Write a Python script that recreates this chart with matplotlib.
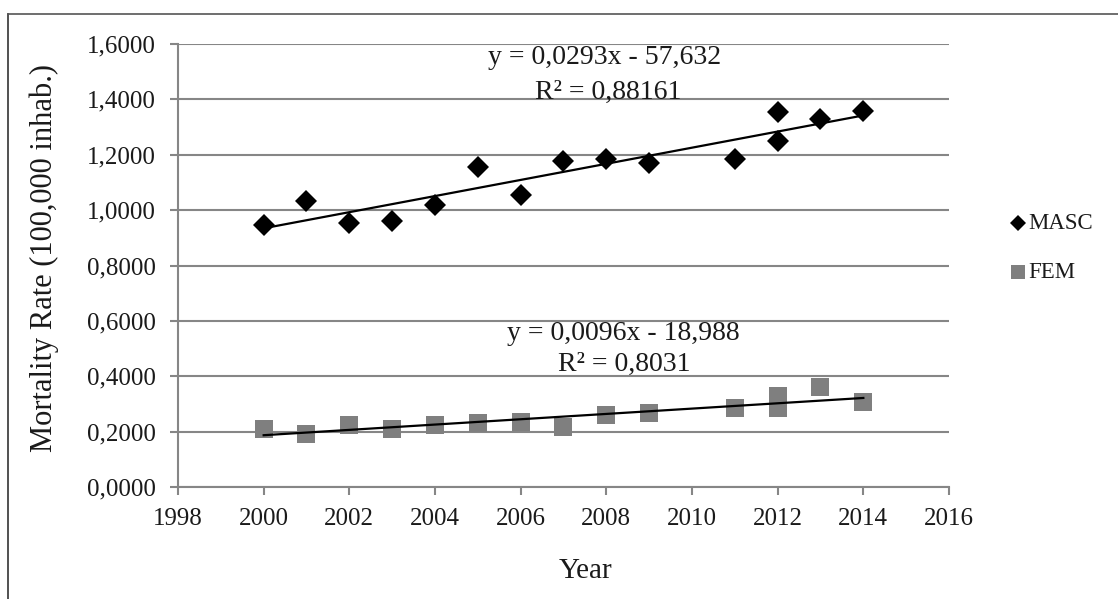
import numpy as np
import matplotlib
matplotlib.use("Agg")
import matplotlib.pyplot as plt
from matplotlib.lines import Line2D

plt.rcParams['font.family'] = ['Liberation Serif', 'DejaVu Serif']

# Data
masc_years = [2000, 2001, 2002, 2003, 2004, 2005, 2006, 2007, 2008, 2009, 2011, 2012, 2012, 2013, 2014]
masc_rate = [0.948, 1.032, 0.955, 0.960, 1.019, 1.157, 1.053, 1.177, 1.186, 1.169, 1.183, 1.355, 1.249, 1.330, 1.358]
fem_years = [2000, 2001, 2002, 2003, 2004, 2005, 2006, 2007, 2008, 2009, 2011, 2012, 2012, 2013, 2014]
fem_rate = [0.210, 0.193, 0.223, 0.210, 0.225, 0.231, 0.235, 0.216, 0.260, 0.266, 0.284, 0.329, 0.284, 0.361, 0.307]
masc_eq = ["y = 0,0293x - 57,632", "R² = 0,88161"]
fem_eq = ["y = 0,0096x - 18,988", "R² = 0,8031"]
x_ticks = list(range(1998, 2017, 2))
y_ticks = [0.0, 0.2, 0.4, 0.6, 0.8, 1.0, 1.2, 1.4, 1.6]
y_ticklabels = ["0,0000", "0,2000", "0,4000", "0,6000", "0,8000", "1,0000", "1,2000", "1,4000", "1,6000"]

W, H = 1118, 599
fig = plt.figure(figsize=(W / 100, H / 100), dpi=100)

def fx(px):
    return px / W

def fy(py):
    return 1 - py / H

ax = fig.add_axes([fx(178), fy(487), fx(949) - fx(178), fy(44) - fy(487)])
grid_c = '#868686'
txt_c = '#1a1a1a'

ax.set_xlim(1998, 2016)
ax.set_ylim(0, 1.6)
ax.set_xticks(x_ticks)
ax.set_yticks(y_ticks)
ax.set_yticklabels(y_ticklabels)
ax.yaxis.grid(True, color=grid_c, linewidth=1.5)
ax.set_axisbelow(True)
for s in ['top', 'right']:
    ax.spines[s].set_visible(False)
for s in ['left', 'bottom']:
    ax.spines[s].set_color(grid_c)
    ax.spines[s].set_linewidth(1.5)
ax.tick_params(axis='both', direction='out', length=6, width=1.5, color=grid_c,
               labelsize=18, labelcolor=txt_c)
ax.tick_params(axis='y', pad=10)
ax.tick_params(axis='x', pad=9)

# trend lines
for xs, ys in [(masc_years, masc_rate), (fem_years, fem_rate)]:
    xs_a = np.array(xs, dtype=float)
    ys_a = np.array(ys, dtype=float)
    m, b = np.polyfit(xs_a, ys_a, 1)
    xl = np.array([xs_a.min(), xs_a.max()])
    ax.plot(xl, m * xl + b, color='black', linewidth=1.6, zorder=3)

ax.plot(fem_years, fem_rate, linestyle='none', marker='s', markersize=13.5,
        color='#7f7f7f', markeredgewidth=0, zorder=2)
ax.plot(masc_years, masc_rate, linestyle='none', marker='D', markersize=11,
        color='black', markeredgewidth=0, zorder=4)

# equations
fig.text(fx(605), fy(58), masc_eq[0], ha='center', va='center', fontsize=20, color=txt_c)
fig.text(fx(608), fy(92), masc_eq[1], ha='center', va='center', fontsize=20, color=txt_c)
fig.text(fx(623), fy(333), fem_eq[0], ha='center', va='center', fontsize=20, color=txt_c)
fig.text(fx(624), fy(364), fem_eq[1], ha='center', va='center', fontsize=20, color=txt_c)

# axis labels
fig.text(fx(586), fy(571), "Year", ha='center', va='center', fontsize=21, color=txt_c)
fig.text(fx(44), fy(258), "Mortality Rate (100,000 inhab.)", ha='center', va='center',
         rotation=90, fontsize=22, color=txt_c)

# legend (manual)
fig.add_artist(Line2D([fx(1018)], [fy(223)], marker='D', markersize=8, color='black',
                      markeredgewidth=0, linestyle='none'))
fig.add_artist(Line2D([fx(1018)], [fy(272)], marker='s', markersize=9.5, color='#7f7f7f',
                      markeredgewidth=0, linestyle='none'))
fig.text(fx(1028), fy(223), "MASC", ha='left', va='center', fontsize=16.5, color=txt_c)
fig.text(fx(1028), fy(272), "FEM", ha='left', va='center', fontsize=16.5, color=txt_c)

# outer frame
fig.add_artist(Line2D([fx(8), fx(8)], [fy(14), fy(599)], color='#333333', linewidth=1.2))
fig.add_artist(Line2D([fx(8), fx(1118)], [fy(14), fy(14)], color='#555555', linewidth=1.2))

fig.savefig("out.png", dpi=100)
